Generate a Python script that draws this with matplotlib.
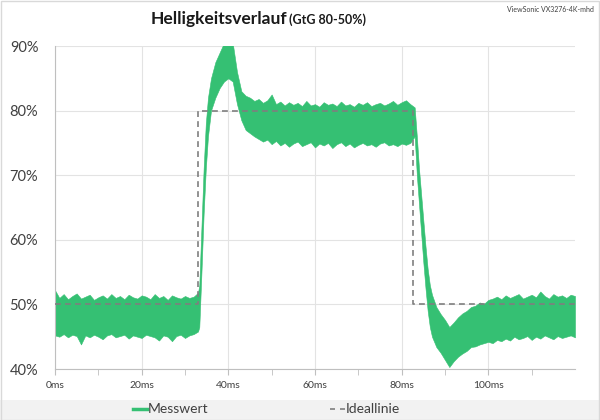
import numpy as np
import matplotlib
matplotlib.use('Agg')
import matplotlib.pyplot as plt
from matplotlib.lines import Line2D
from matplotlib.patches import Rectangle

plt.rcParams['font.family'] = ['Lato', 'DejaVu Sans']

# measured signal envelope (upper / lower edge of the noisy trace), read off the picture
# baseline 0..33 ms
t_base = np.arange(0, 34)
up_base = [52.2, 51.0, 51.6, 50.8, 51.3, 51.7, 50.9, 51.2, 51.5, 50.7, 51.1, 51.4, 50.9, 51.6, 51.0, 51.3, 50.8,
           51.5, 51.1, 50.9, 51.4, 51.2, 50.8, 51.6, 51.0, 51.3, 50.7, 51.4, 51.1, 50.9, 51.3, 51.0, 51.2, 51.8]
lo_base = [45.2, 45.0, 45.4, 44.9, 45.3, 45.1, 43.8, 45.2, 44.9, 45.3, 45.0, 44.6, 45.2, 45.4, 44.9, 45.1, 45.3,
           44.7, 45.2, 45.0, 44.8, 45.3, 45.1, 44.9, 44.4, 45.2, 45.0, 44.3, 45.1, 45.3, 44.8, 45.2, 45.4, 45.8]
# rise and overshoot
t_rise = [33.3, 33.8, 34.3, 34.8, 35.3, 36, 37, 38, 39, 40, 41]
up_rise = [53.0, 62.0, 71.0, 78.0, 82.0, 85.0, 87.5, 89.0, 90.5, 91.0, 90.5]
lo_rise = [46.5, 55.0, 64.0, 71.0, 76.0, 80.0, 82.0, 83.5, 84.5, 85.0, 84.5]
# plateau 42..82 ms
t_plat = np.arange(42, 83)
up_plat = [86.0, 83.0, 82.3, 82.0, 81.5, 81.8, 81.2, 81.6, 82.5, 81.0, 81.4, 80.8, 81.3, 80.9, 81.2, 80.7, 81.5,
           80.8, 81.0, 80.6, 81.3, 80.9, 81.1, 80.7, 81.4, 80.8, 81.0, 80.6, 81.2, 80.9, 81.3, 80.7, 81.0, 81.2,
           80.8, 81.1, 81.5, 80.9, 81.3, 81.6, 81.0]
lo_plat = [81.0, 78.5, 77.0, 76.5, 76.0, 75.6, 75.2, 75.5, 74.8, 75.3, 74.6, 75.0, 74.4, 74.9, 75.2, 74.5, 74.8,
           75.1, 74.3, 74.9, 74.6, 75.0, 74.2, 74.8, 75.1, 74.5, 74.9, 74.3, 74.7, 75.0, 74.6, 74.8, 74.4, 74.9,
           75.1, 74.6, 74.8, 74.5, 74.9, 74.7, 75.0]
# fall
t_fall = [83, 83.5, 84, 84.5, 85, 85.5, 86, 86.5, 87]
up_fall = [80.5, 76.0, 71.0, 67.0, 63.0, 59.0, 55.5, 53.0, 51.5]
lo_fall = [76.0, 70.0, 65.5, 61.0, 56.5, 52.5, 49.0, 46.5, 45.0]
# undershoot and settling 88..120 ms
t_end = np.arange(88, 121)
up_end = [49.6, 48.5, 47.6, 46.5, 47.2, 48.0, 48.6, 49.0, 49.6, 49.8, 50.3, 50.1, 50.7, 50.9, 51.2, 50.8, 51.4,
          51.0, 51.3, 51.6, 50.9, 51.2, 51.5, 51.1, 52.0, 51.3, 50.9, 51.6, 51.2, 51.4, 51.0, 51.5, 51.3]
lo_end = [43.4, 42.5, 41.4, 40.3, 41.2, 41.9, 42.4, 42.8, 43.4, 43.5, 43.8, 44.0, 44.2, 44.0, 44.5, 44.3, 44.7,
          44.4, 45.0, 44.6, 44.8, 45.1, 44.5, 45.0, 44.7, 45.2, 44.9, 44.6, 45.1, 44.8, 45.0, 45.2, 44.9]

# ideal step
ideal_t = [0, 33.1, 33.1, 82.7, 82.7, 120]
ideal_v = [50, 50, 80, 80, 50, 50]

t = np.concatenate([t_base, t_rise, t_plat, t_fall, t_end])
upper = np.concatenate([up_base, up_rise, up_plat, up_fall, up_end])
lower = np.concatenate([lo_base, lo_rise, lo_plat, lo_fall, lo_end])

green = '#35c073'

fig = plt.figure(figsize=(6, 4.2), dpi=100)
# outer frame and legend band
fig.add_artist(Rectangle((0, 0), 1, 20 / 420, transform=fig.transFigure, facecolor='#f2f2f2',
                         edgecolor='none', zorder=0))
fig.add_artist(Rectangle((0.001, 0.001), 0.997, 0.997, transform=fig.transFigure, fill=False,
                         edgecolor='#d9d9d9', lw=1, zorder=0))

ax = fig.add_axes([55 / 600, 1 - 369 / 420, 520 / 600, 323 / 420])
ax.fill_between(t, lower, upper, color=green, lw=0.4, edgecolor=green, zorder=2)
ax.plot(ideal_t, ideal_v, color='#7f7f7f', lw=1.2, ls=(0, (3.5, 2.5)), zorder=3)

ax.set_xlim(0, 120)
ax.set_ylim(40, 90)
ax.set_xticks([0, 20, 40, 60, 80, 100])
ax.set_xticklabels(['0ms', '20ms', '40ms', '60ms', '80ms', '100ms'], fontsize=7.5, color='#404040')
ax.set_xticks([10, 30, 50, 70, 90, 110], minor=True)
ax.set_yticks([40, 50, 60, 70, 80, 90])
ax.set_yticklabels(['40%', '50%', '60%', '70%', '80%', '90%'], fontsize=10.5, color='#404040')
ax.grid(True, color='#e3e3e3', lw=0.8, zorder=0)
ax.set_axisbelow(True)
for s in ['top', 'right']:
    ax.spines[s].set_visible(False)
for s in ['left', 'bottom']:
    ax.spines[s].set_color('#bfbfbf')
ax.tick_params(axis='y', length=0, pad=12)
ax.tick_params(axis='x', which='both', length=4, color='#bfbfbf', pad=5)

# title
fig.text(287 / 600, 1 - 24 / 420, 'Helligkeitsverlauf', ha='right', va='baseline', fontsize=12.5,
         fontweight='bold', color='#1a1a1a')
fig.text(289 / 600, 1 - 24 / 420, '(GtG 80-50%)', ha='left', va='baseline', fontsize=9,
         fontweight='bold', color='#1a1a1a')
fig.text(594 / 600, 1 - 12 / 420, 'ViewSonic VX3276-4K-mhd', ha='right', va='baseline', fontsize=5,
         color='#404040')

# legend
ly = 1 - 409 / 420
fig.add_artist(Line2D([133 / 600, 147 / 600], [ly, ly], color=green, lw=2.5, transform=fig.transFigure))
fig.text(148 / 600, ly, 'Messwert', ha='left', va='center', fontsize=10, color='#404040')
fig.add_artist(Line2D([330 / 600, 345 / 600], [ly, ly], color='#7f7f7f', lw=1.2, ls=(0, (3, 3)),
                      transform=fig.transFigure))
fig.text(346 / 600, ly, 'Ideallinie', ha='left', va='center', fontsize=10, color='#404040')

plt.savefig('out.png', dpi=100)
